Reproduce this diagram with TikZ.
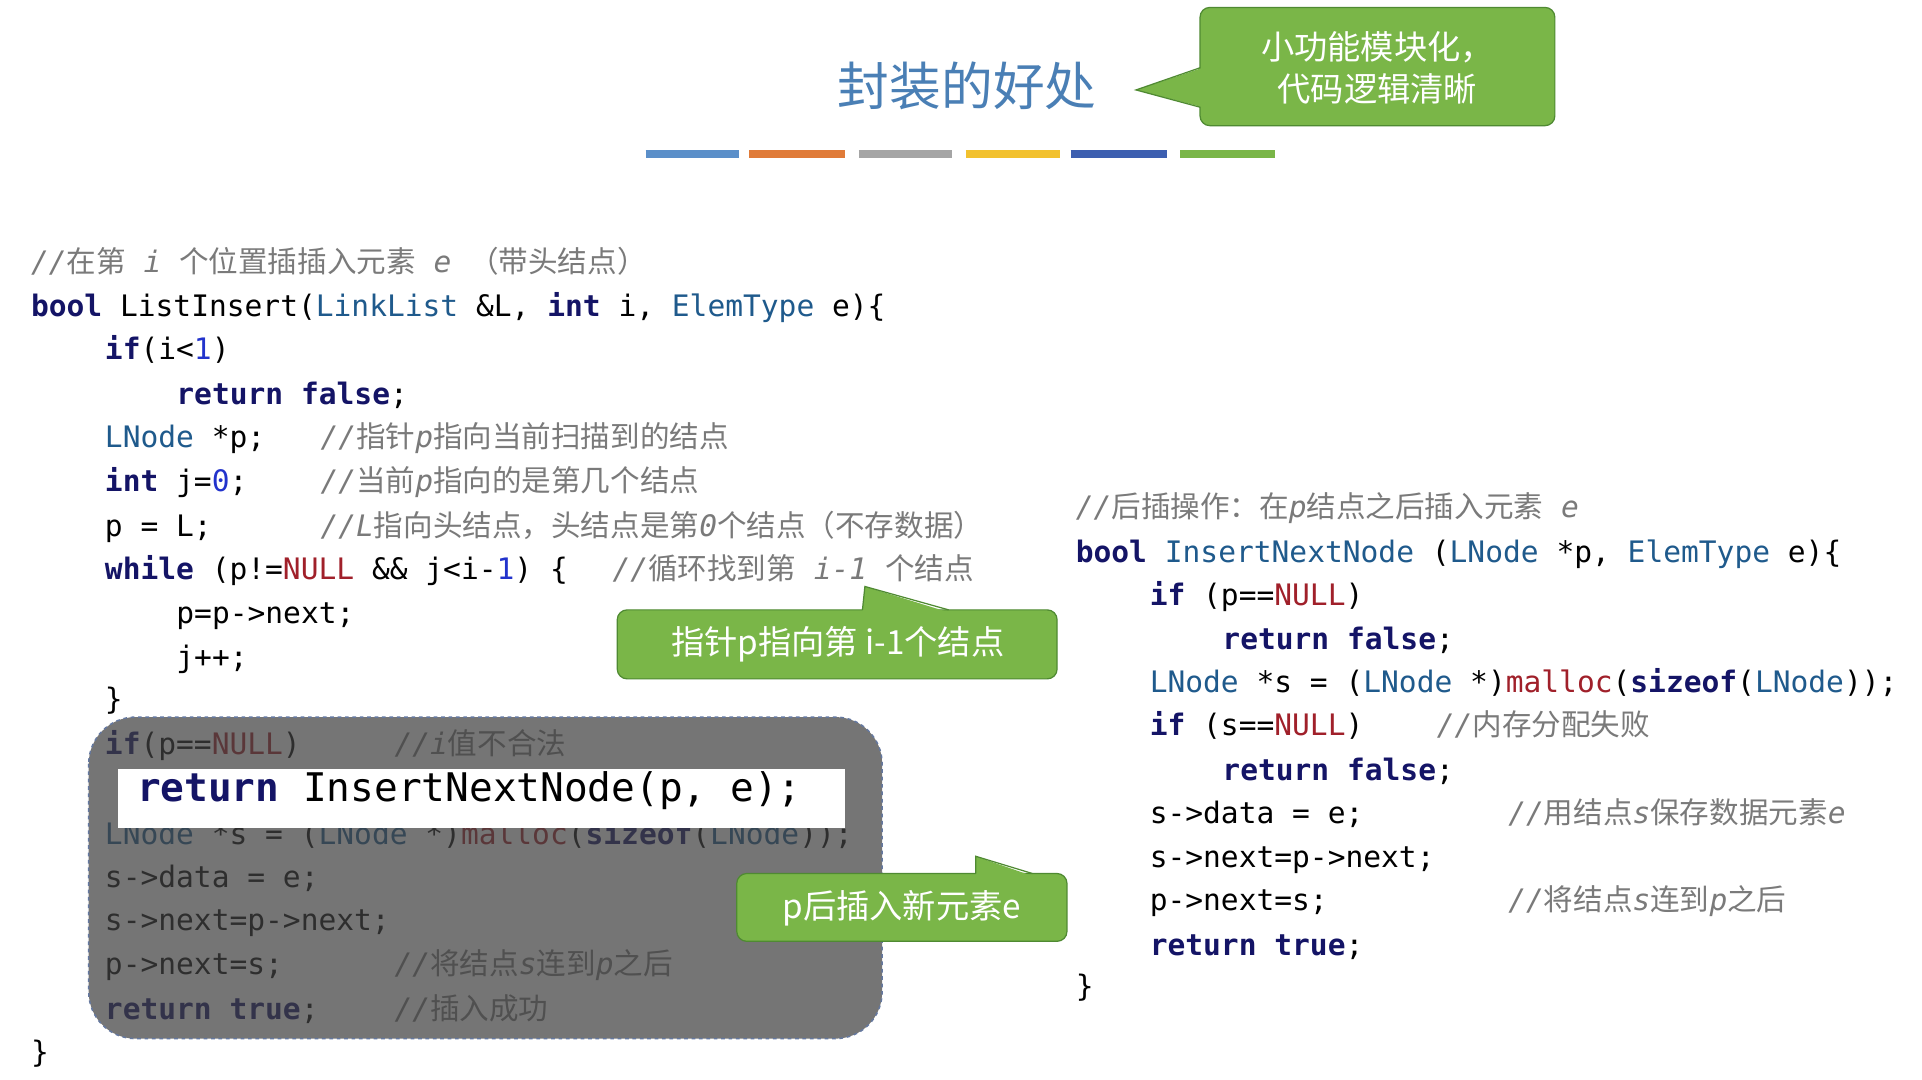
\documentclass[tikz,border=0pt]{standalone}
\usepackage{fontspec}
\setmonofont{DejaVu Sans Mono}
\newfontfamily\zhf{Noto Sans CJK SC}
\newcommand{\zh}[1]{{\zhf\upshape\mdseries #1}}
\definecolor{kwc}{HTML}{141466}
\definecolor{tyc}{HTML}{1F5A8C}
\definecolor{nmc}{HTML}{2233CC}
\definecolor{nlc}{HTML}{A0202A}
\definecolor{cmc}{HTML}{7A7A7A}
\definecolor{gfill}{HTML}{7AB648}
\definecolor{gdraw}{HTML}{4F8A32}
\definecolor{titc}{HTML}{4A7FB5}
\newcommand{\kw}[1]{{\bfseries\color{kwc}#1}}
\newcommand{\ty}[1]{{\color{tyc}#1}}
\newcommand{\nm}[1]{{\color{nmc}#1}}
\newcommand{\nl}[1]{{\color{nlc}#1}}
\newcommand{\cm}[1]{{\itshape\color{cmc}#1}}
\begin{document}
\begin{tikzpicture}[x=1pt,y=-1pt,
  code/.style={anchor=mid west,inner sep=0pt,yshift=-5pt,font=\ttfamily\fontsize{24}{26}\selectfont,text=black},
  bar/.style={line width=7pt},
  callout/.style={fill=gfill,draw=gdraw,line width=1pt,rounded corners=8pt},
  ctext/.style={text=white,font=\zhf\fontsize{27}{34}\selectfont,align=center,inner sep=0pt}]
\useasboundingbox (0,0) rectangle (1560,876);
\fill[white] (0,0) rectangle (1560,876);
% title
\node[text=titc,font=\zhf\fontsize{42}{48}\selectfont] (title) at (785,70) {封装的好处};
\draw[bar,color={rgb,255:red,91;green,143;blue,201}] (524,125) -- (600,125);
\draw[bar,color={rgb,255:red,224;green,123;blue,57}] (608,125) -- (686,125);
\draw[bar,color={rgb,255:red,165;green,165;blue,165}] (697,125) -- (773,125);
\draw[bar,color={rgb,255:red,242;green,193;blue,46}] (784,125) -- (860,125);
\draw[bar,color={rgb,255:red,61;green,95;blue,176}] (869,125) -- (947,125);
\draw[bar,color={rgb,255:red,122;green,182;blue,72}] (958,125) -- (1035,125);
% callout 1
\draw[callout] (974,6) rectangle (1262,102);
\fill[gfill] (976,55) -- (922,73) -- (976,87) -- cycle;
\draw[gdraw,line width=1pt] (974,55) -- (922,73) -- (974,87);
\node[ctext] (c1) at (1118,55) {小功能模块化，\\代码逻辑清晰};
% left code
\node[code] (a1) at (25,214) {\cm{//\zh{在第} i \zh{个位置插插入元素} e \zh{（带头结点）}}};
\node[code] (a2) at (25,250) {\kw{bool} ListInsert(\ty{LinkList} \&L, \kw{int} i, \ty{ElemType} e)\{};
\node[code] (a3) at (85,285) {\kw{if}(i<\nm{1})};
\node[code] (a4) at (143,321) {\kw{return} \kw{false};};
\node[code] (a5) at (85,356) {\ty{LNode} *p;};
\node[code] (a5c) at (260,356) {\cm{//\zh{指针}p\zh{指向当前扫描到的结点}}};
\node[code] (a6) at (85,392) {\kw{int} j=\nm{0};};
\node[code] (a6c) at (260,392) {\cm{//\zh{当前}p\zh{指向的是第几个结点}}};
\node[code] (a7) at (85,428) {p = L;};
\node[code] (a7c) at (260,428) {\cm{//L\zh{指向头结点，头结点是第}0\zh{个结点（不存数据）}}};
\node[code] (a8) at (85,463) {\kw{while} (p!=\nl{NULL} \&\& j<i-\nm{1}) \{};
\node[code] (a8c) at (497,463) {\cm{//\zh{循环找到第} i-1 \zh{个结点}}};
\node[code] (a9) at (143,499) {p=p->next;};
\node[code] (a10) at (143,535) {j++;};
\node[code] (a11) at (85,569) {\}};
\node[code] (a12) at (85,605) {\kw{if}(p==\nl{NULL})};
\node[code] (a12c) at (320,605) {\cm{//i\zh{值不合法}}};
\node[code] (a13) at (85,678) {\ty{LNode} *s = (\ty{LNode} *)\nl{malloc}(\kw{sizeof}(\ty{LNode}));};
\node[code] (a14) at (85,713) {s->data = e;};
\node[code] (a15) at (85,748) {s->next=p->next;};
\node[code] (a16) at (85,784) {p->next=s;};
\node[code] (a16c) at (320,784) {\cm{//\zh{将结点}s\zh{连到}p\zh{之后}}};
\node[code] (a17) at (85,820) {\kw{return} \kw{true};};
\node[code] (a17c) at (320,820) {\cm{//\zh{插入成功}}};
\node[code] (a18) at (25,855) {\}};
% grey overlay
\fill[black!75,opacity=0.72,rounded corners=38pt] (72,582) rectangle (716,843);
\draw[dashed,color={rgb,255:red,100;green,120;blue,160},line width=1.2pt,rounded corners=38pt] (72,582) rectangle (716,843);
\fill[white] (96,624) rectangle (686,672);
\node[code,yshift=5pt,font=\ttfamily\fontsize{32}{36}\selectfont] (ret) at (111,648) {\kw{return} InsertNextNode(p, e);};
% callout 2
\draw[callout] (501,495) rectangle (858,551);
\fill[gfill] (700,497) -- (702,476) -- (770,497) -- cycle;
\draw[gdraw,line width=1pt] (700,495) -- (702,476) -- (770,495);
\node[ctext] (c2) at (680,523) {指针p指向第 i-1个结点};
% callout 3
\draw[callout] (598,709) rectangle (866,764);
\fill[gfill] (792,711) -- (792,695) -- (838,711) -- cycle;
\draw[gdraw,line width=1pt] (792,709) -- (792,695) -- (838,709);
\node[ctext] (c3) at (732,737) {p后插入新元素e};
% right code
\node[code] (b1) at (873,413) {\cm{//\zh{后插操作：在}p\zh{结点之后插入元素} e}};
\node[code] (b2) at (873,449) {\kw{bool} \ty{InsertNextNode} (\ty{LNode} *p, \ty{ElemType} e)\{};
\node[code] (b3) at (933,484) {\kw{if} (p==\nl{NULL})};
\node[code] (b4) at (992,520) {\kw{return} \kw{false};};
\node[code] (b5) at (933,555) {\ty{LNode} *s = (\ty{LNode} *)\nl{malloc}(\kw{sizeof}(\ty{LNode}));};
\node[code] (b6) at (933,590) {\kw{if} (s==\nl{NULL})};
\node[code] (b6c) at (1166,590) {\cm{//\zh{内存分配失败}}};
\node[code] (b7) at (992,626) {\kw{return} \kw{false};};
\node[code] (b8) at (933,661) {s->data = e;};
\node[code] (b8c) at (1224,661) {\cm{//\zh{用结点}s\zh{保存数据元素}e}};
\node[code] (b9) at (933,697) {s->next=p->next;};
\node[code] (b10) at (933,732) {p->next=s;};
\node[code] (b10c) at (1224,732) {\cm{//\zh{将结点}s\zh{连到}p\zh{之后}}};
\node[code] (b11) at (933,768) {\kw{return} \kw{true};};
\node[code] (b12) at (873,802) {\}};
\end{tikzpicture}
\end{document}
